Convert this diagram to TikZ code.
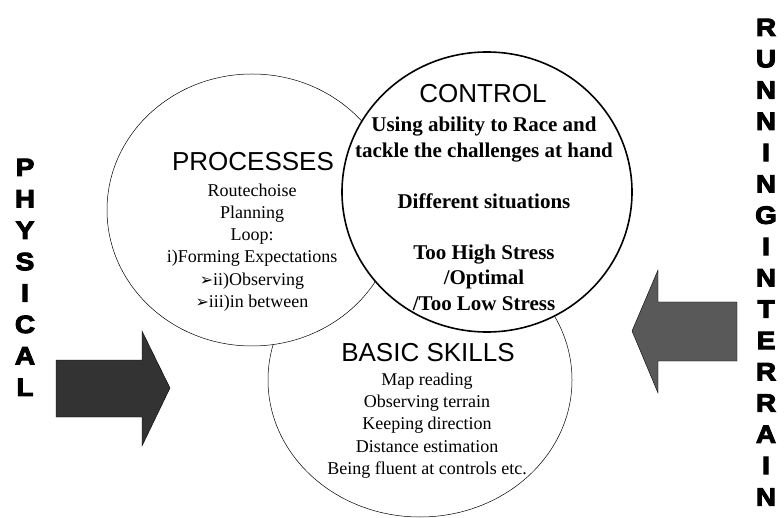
\documentclass[tikz,border=0pt]{standalone}
\usepackage{fontspec}
\setmainfont{Liberation Serif}
\setsansfont{Liberation Sans}
\newfontfamily\symfont{DejaVu Sans}
\newfontfamily\blockfont[FakeBold=4, FakeStretch=1.12]{Liberation Sans Bold}
\usepackage{tikz}

\tikzset{
	heading/.style = {font = \sffamily\fontsize{26}{30}\selectfont, inner sep = 0},
	plaintext/.style = {font = \rmfamily\fontsize{18}{22.3}\selectfont, align = center, inner sep = 0},
	boldtext/.style = {font = \rmfamily\bfseries\fontsize{21}{25.5}\selectfont, align = center, inner sep = 0},
	letter/.style = {font = \blockfont\fontsize{25}{25}\selectfont, inner sep = 0, text height = 18pt, text depth = 0pt},
	bigarrow/.style = {draw = black, thin},
}
\newcommand{\pointer}{{\symfont\fontsize{16}{16}\selectfont ➢}}

\begin{document}
\begin{tikzpicture}[x = 1pt, y = -1pt]
		%frame
		\useasboundingbox (0,0) rectangle (784,518);

		%circles
		\draw [line width = 0.5pt, fill = white] (420,380) circle [x radius = 152, y radius = 137];
		\draw [line width = 0.5pt, fill = white] (252,210) circle [x radius = 145, y radius = 136];
		\draw [line width = 1.6pt, fill = white] (487,192) circle [x radius = 145, y radius = 140];

		%processes
		\node [heading] (processes) at (253,162) {PROCESSES};
		\node [plaintext] (processlist) at (252,247.5) {Routechoise\\Planning\\Loop:\\i)Forming Expectations\\\pointer ii)Observing\\\pointer iii)in between};

		%control
		\node [heading] (control) at (483,94) {CONTROL};
		\node [boldtext] (controllist) at (484,214) {Using ability to Race and\\tackle the challenges at hand\\[25.5pt]Different situations\\[25.5pt]Too High Stress\\/Optimal\\/Too Low Stress};

		%basic skills
		\node [heading] (basic) at (428,353) {BASIC SKILLS};
		\node [plaintext] (basiclist) at (427,425.5) {Map reading\\Observing terrain\\Keeping direction\\Distance estimation\\Being fluent at controls etc.};

		%arrows
		\draw [bigarrow, fill = black!80] (56,360) -- (142,360) -- (142,331) -- (170,388) -- (142,446) -- (142,417) -- (56,417) -- cycle;
		\draw [bigarrow, fill = black!65] (737,302) -- (658,302) -- (658,270) -- (632,331) -- (658,393) -- (658,361) -- (737,361) -- cycle;

		%side labels
		\foreach \l [count = \i] in {P,H,Y,S,I,C,A,L}
			\node [letter] (physical\i) at (25, {167 + 31.4*(\i-1)}) {\l};
		\foreach \l [count = \i] in {R,U,N,N,I,N,G,I,N,T,E,R,R,A,I,N}
			\node [letter] (terrain\i) at (766, {27 + 31.3*(\i-1)}) {\l};
	\end{tikzpicture}
\end{document}
